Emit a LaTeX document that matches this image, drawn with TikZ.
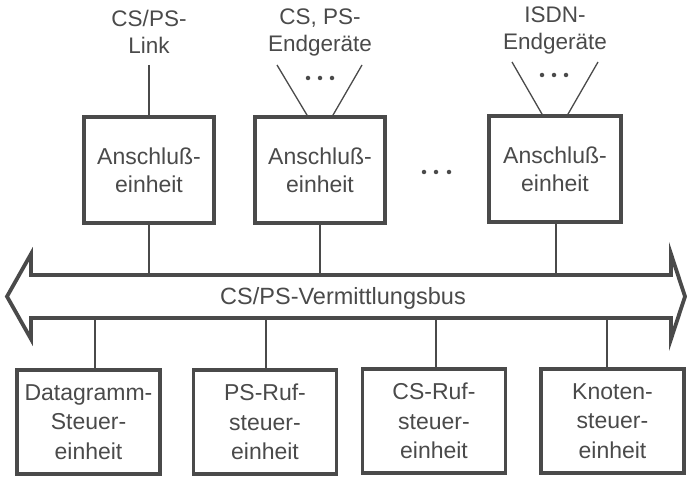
\documentclass[tikz,border=0pt]{standalone}
\usepackage{fontspec}
\setmainfont{Liberation Sans}
\definecolor{ink}{HTML}{4A4A4A}
\tikzset{
  lbl/.style={text=ink, align=center, inner sep=0pt, font=\fontsize{22.5}{27}\selectfont},
  unitbox/.style={lbl, draw=ink, line width=3.8pt, minimum width=130pt, minimum height=106pt, font=\fontsize{23}{28}\selectfont},
  ctrlbox/.style={lbl, draw=ink, line width=3.8pt, minimum width=143pt, minimum height=104pt, font=\fontsize{23}{29.5}\selectfont},
  wire/.style={draw=ink, line width=1.8pt},
  fan/.style={draw=ink, line width=1.3pt},
  busline/.style={draw=ink, line width=3.8pt, line join=miter},
  dot/.style={fill=ink, circle, inner sep=0pt, minimum size=4.5pt},
}
\begin{document}
\begin{tikzpicture}[x=1pt, y=-1pt]
  \useasboundingbox (0,0) rectangle (687,478);

  % terminal labels
  \node[lbl] (lnk)  at (149,32) {CS/PS-\\Link};
  \node[lbl] (cps)  at (320,32) {CS, PS-\\Endgeräte};
  \node[lbl] (isdn) at (555,30) {ISDN-\\Endgeräte};

  % line units
  \node[unitbox] (u1) at (149,170) {Anschluß-\\einheit};
  \node[unitbox] (u2) at (320,170) {Anschluß-\\einheit};
  \node[unitbox, minimum width=132pt] (u3) at (555,169) {Anschluß-\\einheit};

  % link and terminal fans
  \coordinate (l0) at (149,65);
  \draw[wire] (l0) -- (u1.north);
  \coordinate (f2a) at (277,65);
  \coordinate (f2b) at (362,65);
  \draw[fan] (f2a) -- ([xshift=-13pt]u2.north);
  \draw[fan] (f2b) -- ([xshift=13pt]u2.north);
  \node[dot] (d21) at (308,78) {};
  \node[dot] (d22) at (320,78) {};
  \node[dot] (d23) at (332,78) {};
  \coordinate (f3a) at (512,62);
  \coordinate (f3b) at (598,62);
  \draw[fan] (f3a) -- ([xshift=-13pt]u3.north);
  \draw[fan] (f3b) -- ([xshift=13pt]u3.north);
  \node[dot] (d31) at (542,75) {};
  \node[dot] (d32) at (554,75) {};
  \node[dot] (d33) at (566,75) {};

  % further line units
  \node[dot] (m1) at (424,172) {};
  \node[dot] (m2) at (436,172) {};
  \node[dot] (m3) at (449,172) {};

  % switching bus
  \draw[busline] (31,275) -- (671,275) -- (671,254) -- (685,296.5) -- (671,339)
        -- (671,318) -- (31,318) -- (31,339) -- (7,296.5) -- (31,254) -- cycle;
  \node[lbl, font=\fontsize{23.5}{28}\selectfont] (bus) at (343,298) {CS/PS-Vermittlungsbus};
  \coordinate (t1) at (149,275);
  \coordinate (t2) at (320,275);
  \coordinate (t3) at (556,275);
  \draw[wire] (u1.south) -- (t1);
  \draw[wire] (u2.south) -- (t2);
  \draw[wire] (u3.south -| t3) -- (t3);

  % control units
  \node[ctrlbox] (c1) at (88.5,422) {Datagramm-\\Steuer-\\einheit};
  \node[ctrlbox] (c2) at (265,422) {PS-Ruf-\\steuer-\\einheit};
  \node[ctrlbox] (c3) at (434,421) {CS-Ruf-\\steuer-\\einheit};
  \node[ctrlbox] (c4) at (612.5,421) {Knoten-\\steuer-\\einheit};
  \coordinate (b1) at (95,318);
  \coordinate (b2) at (266,318);
  \coordinate (b3) at (436,318);
  \coordinate (b4) at (607,318);
  \draw[wire] (b1) -- (c1.north -| b1);
  \draw[wire] (b2) -- (c2.north -| b2);
  \draw[wire] (b3) -- (c3.north -| b3);
  \draw[wire] (b4) -- (c4.north -| b4);
\end{tikzpicture}
\end{document}
